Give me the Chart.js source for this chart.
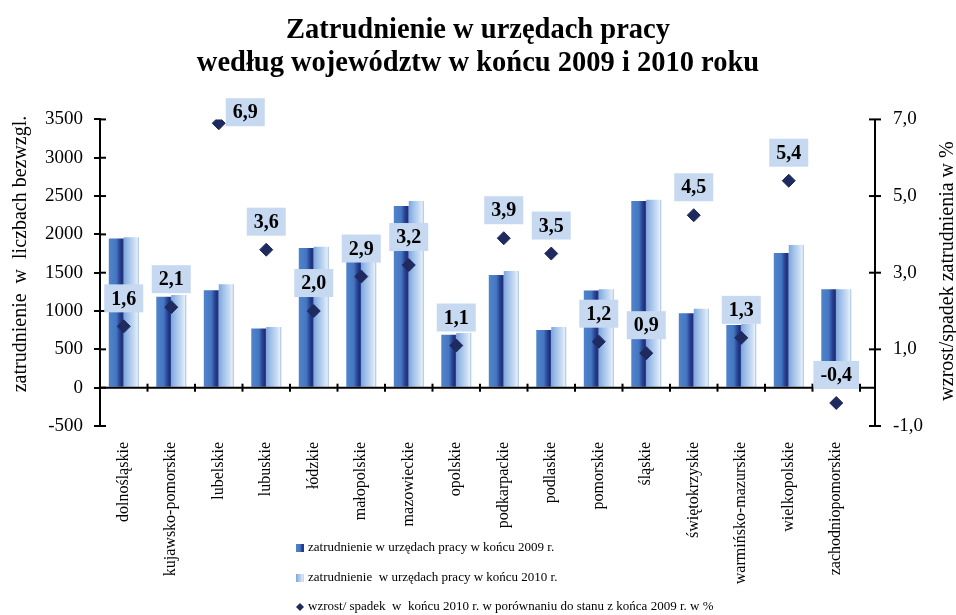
<!DOCTYPE html>
<html>
<head>
<meta charset="utf-8">
<script src="https://cdn.jsdelivr.net/npm/chart.js@4.4.1/dist/chart.umd.min.js"></script>
<style>
  body { margin: 0; background: #fff; }
  canvas { display: block; }
</style>
</head>
<body>
<canvas id="myChart" width="956" height="615"></canvas>
<script>
// data
const categories = ['dolnośląskie', 'kujawsko-pomorskie', 'lubelskie', 'lubuskie', 'łódzkie',
  'małopolskie', 'mazowieckie', 'opolskie', 'podkarpackie', 'podlaskie', 'pomorskie',
  'śląskie', 'świętokrzyskie', 'warmińsko-mazurskie', 'wielkopolskie', 'zachodniopomorskie'];
const emp2009 = [1945, 1185, 1272, 772, 1823, 1642, 2370, 690, 1471, 751, 1267, 2435, 972, 819, 1758, 1285];
const emp2010 = [1962, 1210, 1350, 790, 1840, 1690, 2435, 712, 1523, 790, 1285, 2452, 1029, 830, 1862, 1285];
const change = [1.6, 2.1, 6.9, 3.6, 2.0, 2.9, 3.2, 1.1, 3.9, 3.5, 1.2, 0.9, 4.5, 1.3, 5.4, -0.4];
const leftTicks = [-500, 3500, 500];   // min, max, step
const rightTicks = [-1, 7, 2];

const serif = 'Liberation Serif';
const stops2009 = [[0, '#4f84ca'], [0.5, '#4577c2'], [0.72, '#2b4696'], [0.9, '#1d2d78'], [1, '#3558a8']];
const stops2010 = [[0, '#7fa6da'], [0.3, '#9fc0ea'], [0.75, '#cfe0f4'], [0.9, '#e6eff9'], [1, '#8fb3e2']];
const diamondColor = '#1f2a5e';

function comma(v) {
  return v.toFixed(1).replace('.', ',');
}

function barFill(stops, fallback) {
  return function(c) {
    const el = c.element;
    if (!el || !el.width) return fallback;
    const g = c.chart.ctx.createLinearGradient(el.x - el.width / 2, 0, el.x + el.width / 2, 0);
    stops.forEach(s => g.addColorStop(s[0], s[1]));
    return g;
  };
}

// axes lines, zero line, value boxes, axis titles, legend
const extras = {
  id: 'extras',
  afterDatasetsDraw(chart) {
    const ctx = chart.ctx;
    const ca = chart.chartArea;
    const x = chart.scales.x, y = chart.scales.y, y1 = chart.scales.y1;
    const y0 = y.getPixelForValue(0);
    const rightAxisX = ca.right + 15;

    ctx.save();
    ctx.strokeStyle = '#000';
    ctx.lineWidth = 2;
    // zero line
    ctx.beginPath();
    ctx.moveTo(ca.left, y0);
    ctx.lineTo(rightAxisX, y0);
    ctx.stroke();
    // category ticks on zero line
    const half = (x.getPixelForValue(1) - x.getPixelForValue(0)) / 2;
    for (let i = 0; i < categories.length; i++) {
      const xm = x.getPixelForValue(i) + half;
      ctx.beginPath();
      ctx.moveTo(xm, y0 - 4);
      ctx.lineTo(xm, y0 + 4);
      ctx.stroke();
    }
    // inner stubs of left ticks
    y.ticks.forEach(t => {
      const py = y.getPixelForValue(t.value);
      ctx.beginPath();
      ctx.moveTo(ca.left, py);
      ctx.lineTo(ca.left + 6, py);
      ctx.stroke();
    });
    // right axis
    ctx.beginPath();
    ctx.moveTo(rightAxisX, ca.top);
    ctx.lineTo(rightAxisX, ca.bottom);
    ctx.stroke();
    y1.ticks.forEach(t => {
      const py = y1.getPixelForValue(t.value);
      ctx.beginPath();
      ctx.moveTo(rightAxisX - 6, py);
      ctx.lineTo(rightAxisX + 6, py);
      ctx.stroke();
    });

    // value boxes
    const meta = chart.getDatasetMeta(0);
    ctx.font = 'bold 20px "' + serif + '"';
    ctx.textAlign = 'center';
    ctx.textBaseline = 'middle';
    meta.data.forEach((pt, i) => {
      const txt = comma(change[i]);
      const w = ctx.measureText(txt).width + 14;
      const h = 28;
      let cx = pt.x, cy = pt.y - 28;
      if (cy - h / 2 < ca.top - 10) {
        cx = pt.x + 7 + w / 2;
        cy = pt.y - 11;
      }
      ctx.fillStyle = '#c6d9f0';
      ctx.fillRect(cx - w / 2, cy - h / 2, w, h);
      ctx.fillStyle = '#000';
      ctx.fillText(txt, cx, cy + 1);
    });

    // axis titles
    ctx.font = '20px "' + serif + '"';
    ctx.fillStyle = '#000';
    ctx.save();
    ctx.translate(21, 254);
    ctx.rotate(-Math.PI / 2);
    ctx.fillText('zatrudnienie  w  liczbach bezwzgl.', 0, 0);
    ctx.restore();
    ctx.save();
    ctx.translate(948, 271);
    ctx.rotate(-Math.PI / 2);
    ctx.fillText('wzrost/spadek zatrudnienia w %', 0, 0);
    ctx.restore();

    // legend: 2009 bars, 2010 bars, then the diamonds
    ctx.font = '13px "' + serif + '"';
    ctx.textAlign = 'left';
    const rows = [548, 578, 607];
    [1, 2, 0].forEach((di, k) => {
      const ds = chart.data.datasets[di];
      const ly = rows[k];
      if (ds.type === 'line') {
        ctx.fillStyle = diamondColor;
        ctx.beginPath();
        ctx.moveTo(300, ly - 4);
        ctx.lineTo(304, ly);
        ctx.lineTo(300, ly + 4);
        ctx.lineTo(296, ly);
        ctx.closePath();
        ctx.fill();
      } else {
        const stops = di === 1 ? stops2009 : stops2010;
        const g = ctx.createLinearGradient(296, 0, 304, 0);
        stops.forEach(s => g.addColorStop(s[0], s[1]));
        ctx.fillStyle = g;
        ctx.fillRect(296, ly - 4, 8, 8);
      }
      ctx.fillStyle = '#000';
      ctx.fillText(ds.label, 308, ly);
    });
    ctx.restore();
  }
};

const myChart = new Chart(document.getElementById('myChart'), {
  data: {
    labels: categories,
    datasets: [{
      type: 'line',
      label: 'wzrost/ spadek  w  końcu 2010 r. w porównaniu do stanu z końca 2009 r. w %',
      data: change,
      yAxisID: 'y1',
      showLine: false,
      pointStyle: 'rectRot',
      pointRadius: 6.5,
      pointBackgroundColor: diamondColor,
      pointBorderColor: diamondColor,
      pointBorderWidth: 1,
      order: 0
    }, {
      type: 'bar',
      label: 'zatrudnienie w urzędach pracy w końcu 2009 r.',
      data: emp2009,
      yAxisID: 'y',
      backgroundColor: barFill(stops2009, '#4577c2'),
      borderWidth: 0,
      categoryPercentage: 0.63,
      barPercentage: 1,
      order: 1
    }, {
      type: 'bar',
      label: 'zatrudnienie  w urzędach pracy w końcu 2010 r.',
      data: emp2010,
      yAxisID: 'y',
      backgroundColor: barFill(stops2010, '#9fc0ea'),
      borderWidth: 0,
      categoryPercentage: 0.63,
      barPercentage: 1,
      order: 1
    }]
  },
  options: {
    responsive: false,
    animation: false,
    layout: { padding: 0 },
    plugins: {
      legend: { display: false },
      tooltip: { enabled: false },
      title: {
        display: true,
        text: ['Zatrudnienie w urzędach pracy', 'według województw w końcu 2009 i 2010 roku'],
        color: '#000',
        font: { family: serif, size: 28.5, weight: 'bold', lineHeight: 1.13 },
        padding: { top: 15, bottom: 40 }
      }
    },
    scales: {
      x: {
        grid: { display: false, drawTicks: false },
        border: { display: false },
        ticks: {
          color: '#000',
          font: { family: serif, size: 16 },
          minRotation: 90,
          maxRotation: 90,
          autoSkip: false,
          padding: 16
        },
        afterFit: s => { s.height = 189; }
      },
      y: {
        position: 'left',
        min: leftTicks[0],
        max: leftTicks[1],
        grid: { drawOnChartArea: false, color: '#000', tickColor: '#000', tickLength: 6, lineWidth: 2 },
        border: { color: '#000', width: 2 },
        ticks: {
          stepSize: leftTicks[2],
          color: '#000',
          font: { family: serif, size: 19 },
          padding: 11,
          callback: v => String(v)
        },
        afterFit: s => { s.width = 100; }
      },
      y1: {
        position: 'right',
        min: rightTicks[0],
        max: rightTicks[1],
        grid: { display: false, drawTicks: false },
        border: { display: false },
        ticks: {
          stepSize: rightTicks[2],
          color: '#000',
          font: { family: serif, size: 19 },
          padding: 33,
          callback: v => comma(v)
        },
        afterFit: s => { s.width = 96; }
      }
    }
  },
  plugins: [extras]
});
// second pass so the bar gradients know their element positions
myChart.update();
</script>
</body>
</html>
